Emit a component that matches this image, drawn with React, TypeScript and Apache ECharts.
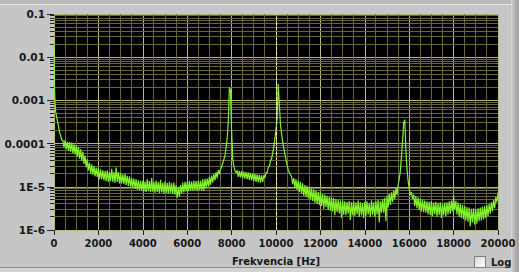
import React, { useEffect, useRef } from "react";
import * as echarts from "echarts";

// ---------- data ----------
const FREQ_STEP = 50; // Hz between samples inside a segment

// very first samples near DC
const dcFreqs = [0, 20, 45, 70];
const dcValues = [0.022, 0.0021, 9.0e-4, 5.8e-4];

const lowBandStart = 100;
const lowBand = [
  4.6e-4, 3.4e-4, 2.6e-4, 1.8e-4, 1.55e-4, 1.2e-4, 1.2e-4,
  8.2e-5, 1.2e-4, 7.4e-5, 1.1e-4, 6.8e-5, 1.08e-4, 6.5e-5, 1.05e-4, 6.0e-5, 9.6e-5,
  5.6e-5, 9.2e-5, 5.0e-5, 8.4e-5, 4.5e-5, 7.4e-5, 4.0e-5, 6.5e-5, 3.4e-5, 5.3e-5,
  2.8e-5, 4.3e-5, 2.4e-5, 3.6e-5, 2.0e-5, 3.3e-5, 1.9e-5, 3.0e-5, 1.75e-5, 2.8e-5,
  1.7e-5, 2.7e-5, 1.5e-5, 2.5e-5, 1.5e-5, 2.4e-5, 1.4e-5, 2.3e-5, 1.35e-5, 2.4e-5,
  1.3e-5, 2.2e-5, 1.35e-5, 2.6e-5, 1.3e-5, 2.2e-5, 1.25e-5, 2.8e-5, 1.3e-5, 2.2e-5,
  1.2e-5,
];

const midBandStart = 3000;
const midBand = [
  2.1e-5, 1.2e-5, 1.95e-5, 1.15e-5, 2.0e-5, 1.1e-5, 1.8e-5, 1.05e-5, 1.75e-5, 1.0e-5,
  1.6e-5, 9.6e-6, 1.55e-5, 9.0e-6, 1.5e-5, 8.6e-6, 1.42e-5, 8.3e-6, 1.38e-5, 8.0e-6,
  1.4e-5, 7.8e-6, 1.32e-5, 7.6e-6, 1.5e-5, 7.9e-6, 1.35e-5, 7.5e-6, 1.6e-5, 7.7e-6,
  1.3e-5, 7.3e-6, 1.4e-5, 7.6e-6, 1.28e-5, 7.2e-6, 1.45e-5, 7.4e-6, 1.26e-5, 7.0e-6,
  1.32e-5, 7.2e-6, 1.24e-5, 6.9e-6, 1.3e-5, 7.1e-6, 1.2e-5, 6.8e-6, 1.26e-5, 6.6e-6,
  1.1e-5, 5.6e-6, 9.4e-6, 5.9e-6, 1.1e-5, 7.0e-6, 1.25e-5, 7.4e-6, 1.3e-5, 7.8e-6,
  1.28e-5, 7.9e-6, 1.35e-5, 8.0e-6, 1.32e-5, 8.1e-6, 1.38e-5, 8.2e-6, 1.35e-5, 8.0e-6,
  1.4e-5, 8.3e-6, 1.38e-5, 8.1e-6, 1.5e-5, 8.0e-6, 1.52e-5, 9.4e-6, 1.55e-5, 1.02e-5,
  1.7e-5, 1.12e-5, 1.82e-5, 1.25e-5, 2.0e-5, 1.4e-5, 2.2e-5, 1.6e-5, 2.45e-5, 1.95e-5,
];

const peak8kStart = 7500;
const peak8k = [
  2.6e-5, 2.9e-5, 3.5e-5, 4.3e-5, 5.2e-5, 8.0e-5, 1.3e-4, 3.2e-4, 2.0e-3, 1.7e-3,
  2.0e-4, 4.5e-5, 3.0e-5, 2.4e-5, 2.1e-5,
];

const betweenStart = 8250;
const between = [
  2.4e-5, 1.7e-5, 2.35e-5, 1.65e-5, 2.3e-5, 1.6e-5, 2.25e-5, 1.55e-5, 2.2e-5, 1.5e-5,
  2.15e-5, 1.45e-5, 2.1e-5, 1.4e-5, 2.05e-5, 1.35e-5, 2.0e-5, 1.3e-5, 1.95e-5, 1.28e-5,
  1.9e-5, 1.25e-5, 1.85e-5, 1.3e-5, 1.85e-5, 1.6e-5, 2.15e-5, 2.1e-5, 2.8e-5, 3.0e-5,
  3.9e-5,
];

const peak10kStart = 9800;
const peak10k = [
  4.5e-5, 6.0e-5, 8.5e-5, 1.3e-4, 2.1e-4, 4.0e-4, 2.4e-3, 8.0e-4, 2.8e-4, 1.7e-4,
  1.1e-4, 7.8e-5, 5.8e-5, 4.2e-5, 3.2e-5, 2.5e-5, 2.1e-5, 1.9e-5,
];

const highBandStart = 10700;
const highBand = [
  1.75e-5, 1.15e-5, 1.6e-5, 9.5e-6, 1.5e-5, 8.5e-6, 1.4e-5, 7.6e-6, 1.3e-5, 7.0e-6,
  1.2e-5, 6.2e-6, 1.1e-5, 5.8e-6, 1.05e-5, 5.4e-6, 1.0e-5, 5.0e-6, 9.2e-6, 4.7e-6,
  8.8e-6, 4.3e-6, 8.2e-6, 4.0e-6, 7.6e-6, 3.8e-6, 7.4e-6, 3.6e-6, 6.8e-6, 3.1e-6,
  6.6e-6, 3.4e-6, 6.2e-6, 2.9e-6, 5.9e-6, 2.8e-6, 5.7e-6, 2.7e-6, 5.5e-6, 2.2e-6,
  5.2e-6, 2.6e-6, 5.0e-6, 2.4e-6, 4.8e-6, 1.9e-6, 4.9e-6, 2.3e-6, 4.6e-6, 2.2e-6,
  4.5e-6, 2.4e-6, 4.7e-6, 1.7e-6, 4.4e-6, 2.2e-6, 4.6e-6, 2.1e-6, 4.3e-6, 2.3e-6,
  4.8e-6, 2.0e-6, 4.4e-6, 2.2e-6, 4.2e-6, 1.9e-6, 4.5e-6, 2.1e-6, 4.6e-6, 2.3e-6,
  4.2e-6, 2.0e-6, 4.9e-6, 2.2e-6, 4.4e-6, 2.0e-6, 4.7e-6, 2.3e-6, 5.0e-6, 1.5e-6,
  4.6e-6, 2.5e-6, 5.2e-6, 2.5e-6, 5.6e-6, 1.6e-6, 6.2e-6, 3.3e-6, 6.9e-6, 3.8e-6,
  7.5e-6, 4.4e-6, 8.3e-6, 5.2e-6, 9.3e-6, 6.5e-6,
];

const peak16kStart = 15500;
const peak16k = [
  1.1e-5, 1.5e-5, 2.3e-5, 5.0e-5, 1.1e-4, 3.0e-4, 3.6e-4, 7.0e-5, 2.6e-5, 1.4e-5,
  9.0e-6, 6.5e-6, 7.5e-6, 5.2e-6,
];

const tailStart = 16200;
const tail = [
  6.6e-6, 3.6e-6, 6.0e-6, 3.2e-6, 5.6e-6, 2.9e-6, 5.3e-6, 2.7e-6, 5.0e-6, 2.6e-6,
  4.8e-6, 2.5e-6, 4.6e-6, 2.3e-6, 4.5e-6, 2.2e-6, 4.7e-6, 2.1e-6, 4.3e-6, 2.3e-6,
  4.5e-6, 2.0e-6, 4.2e-6, 2.2e-6, 4.4e-6, 1.9e-6, 4.0e-6, 2.2e-6, 4.3e-6, 2.1e-6,
  4.4e-6, 2.3e-6, 4.6e-6, 2.4e-6, 4.8e-6, 2.7e-6, 6.2e-6, 2.9e-6, 4.7e-6, 2.3e-6,
  4.3e-6, 2.0e-6, 4.0e-6, 1.9e-6, 3.8e-6, 1.8e-6, 3.6e-6, 1.65e-6, 3.4e-6, 1.55e-6,
  3.3e-6, 1.2e-6, 3.1e-6, 1.5e-6, 3.2e-6, 1.35e-6, 3.0e-6, 1.4e-6, 3.2e-6, 1.6e-6,
  3.3e-6, 1.65e-6, 3.5e-6, 1.75e-6, 3.6e-6, 1.9e-6, 3.8e-6, 2.1e-6, 4.0e-6, 2.4e-6,
  4.4e-6, 2.7e-6, 5.0e-6, 3.2e-6, 5.8e-6, 4.4e-6, 7.5e-6,
];

const segments = [
  { start: lowBandStart, values: lowBand },
  { start: midBandStart, values: midBand },
  { start: peak8kStart, values: peak8k },
  { start: betweenStart, values: between },
  { start: peak10kStart, values: peak10k },
  { start: highBandStart, values: highBand },
  { start: peak16kStart, values: peak16k },
  { start: tailStart, values: tail },
];

// axis / grid values
const X_MIN = 0;
const X_MAX = 20000;
const X_INTERVAL = 2000;
const xMinorGrid = [
  500, 1000, 1500, 2500, 3000, 3500, 4500, 5000, 5500, 6500, 7000, 7500,
  8500, 9000, 9500, 10500, 11000, 11500, 12500, 13000, 13500, 14500, 15000, 15500,
  16500, 17000, 17500, 18500, 19000, 19500,
];
const Y_MIN = 1e-6;
const Y_MAX = 0.1;
const yDecades = [1e-6, 1e-5, 1e-4, 1e-3, 1e-2];
const yMinorMantissas = [2, 3, 4, 5, 6, 7, 8, 9];
const yTickExponents = [-6, -5, -4, -3, -2, -1];
const yTickLabels = ["1E-6", "1E-5", "0.0001", "0.001", "0.01", "0.1"];
const cursorFreq = 10000;

const xTitle = "Frekvencia [Hz]";
const logLabel = "Log";

// ---------- styles ----------
const FONT = "DejaVu Sans";
const TEXT = "#161616";
const MAJOR = "#b9b97c";
const MINOR = "#66663a";
const TRACE = "#82f22a";
const PANEL = "#c6c6c6";

export default function App() {
  const ref = useRef<HTMLDivElement>(null);

  useEffect(() => {
    if (!ref.current) return;
    const chart = echarts.init(ref.current, undefined, { renderer: "svg" });

    const spectrum: [number, number][] = dcFreqs.map((f, i) => [f, dcValues[i]]);
    segments.forEach((seg) =>
      seg.values.forEach((v, i) => spectrum.push([seg.start + i * FREQ_STEP, v]))
    );
    spectrum.sort((a, b) => a[0] - b[0]);

    const yMinor: number[] = [];
    yDecades.forEach((d) => yMinorMantissas.forEach((m) => yMinor.push(m * d)));

    const px = (v: number) => Math.round(v - 0.5) + 0.5;

    const option: any = {
      animation: false,
      backgroundColor: "transparent",
      grid: {
        left: 54,
        right: 21,
        top: 14,
        bottom: 42,
        show: true,
        backgroundColor: "#000",
        borderWidth: 0,
      },
      xAxis: {
        type: "value",
        min: X_MIN,
        max: X_MAX,
        interval: X_INTERVAL,
        axisLine: { show: false },
        axisTick: { show: true, length: 5, lineStyle: { color: "#222" } },
        axisLabel: {
          margin: 8,
          color: TEXT,
          fontFamily: FONT,
          fontWeight: "bold",
          fontSize: 10,
          formatter: (v: number) => String(v),
        },
        splitLine: { show: true, lineStyle: { color: MAJOR, width: 1 } },
        name: xTitle,
        nameLocation: "middle",
        nameGap: 26,
        nameTextStyle: { color: TEXT, fontFamily: FONT, fontWeight: "bold", fontSize: 10 },
      },
      yAxis: {
        type: "log",
        logBase: 10,
        min: Y_MIN,
        max: Y_MAX,
        splitNumber: 5,
        axisLine: { show: false },
        axisTick: { show: true, length: 7, lineStyle: { color: "#222" } },
        axisLabel: {
          margin: 9,
          color: TEXT,
          fontFamily: FONT,
          fontWeight: "bold",
          fontSize: 10.5,
          formatter: (v: number) => {
            const e = Math.round(Math.log10(v));
            const i = yTickExponents.indexOf(e);
            return i >= 0 ? yTickLabels[i] : "";
          },
        },
        splitLine: { show: true, lineStyle: { color: MAJOR, width: 1 } },
      },
      series: [
        {
          type: "custom",
          silent: true,
          clip: false,
          data: yMinor.map((v) => [X_MIN, v]),
          renderItem: (_p: any, api: any) => {
            const v = api.value(1);
            const a = api.coord([X_MIN, v]);
            const b = api.coord([X_MAX, v]);
            const y = px(a[1]);
            return {
              type: "group",
              children: [
                { type: "line", shape: { x1: a[0], y1: y, x2: b[0], y2: y }, style: { stroke: MINOR, lineWidth: 1 } },
                { type: "line", shape: { x1: a[0] - 4, y1: y, x2: a[0], y2: y }, style: { stroke: "#222", lineWidth: 1 } },
              ],
            };
          },
        },
        {
          type: "custom",
          silent: true,
          data: xMinorGrid.map((f) => [f, Y_MIN]),
          renderItem: (_p: any, api: any) => {
            const f = api.value(0);
            const a = api.coord([f, Y_MIN]);
            const b = api.coord([f, Y_MAX]);
            const x = px(a[0]);
            return { type: "line", shape: { x1: x, y1: a[1], x2: x, y2: b[1] }, style: { stroke: MINOR, lineWidth: 1 } };
          },
        },
        {
          type: "line",
          data: spectrum,
          showSymbol: false,
          symbol: "none",
          clip: false,
          lineStyle: { color: TRACE, width: 1.2 },
          silent: true,
          markLine: {
            silent: true,
            symbol: "none",
            label: { show: false },
            lineStyle: { color: "#f2f2a8", width: 1, type: [3, 2] },
            data: [{ xAxis: cursorFreq }],
          },
        },
      ],
      graphic: [
        { type: "rect", shape: { x: 0, y: 0, width: 519, height: 4 }, style: { fill: "#b9b9b9" }, silent: true },
        { type: "rect", shape: { x: 0, y: 4, width: 511, height: 1 }, style: { fill: "#e6e6e6" }, silent: true },
        {
          type: "rect",
          shape: { x: 511, y: 0, width: 8, height: 272 },
          style: {
            fill: new echarts.graphic.LinearGradient(0, 0, 1, 0, [
              { offset: 0, color: "#dcdcdc" },
              { offset: 0.3, color: "#bdbdbd" },
              { offset: 1, color: "#9c9c9c" },
            ]),
          },
          silent: true,
        },
        { type: "rect", shape: { x: 0, y: 267, width: 511, height: 1 }, style: { fill: "#8e8e8e" }, silent: true },
        { type: "rect", shape: { x: 0, y: 268, width: 511, height: 4 }, style: { fill: "#d4d4d4" }, silent: true },
        {
          type: "rect",
          shape: { x: 474.5, y: 256.5, width: 11, height: 11 },
          style: {
            fill: new echarts.graphic.LinearGradient(0, 0, 1, 1, [
              { offset: 0, color: "#d8d8d8" },
              { offset: 1, color: "#ffffff" },
            ]),
            stroke: "#7c7c7c",
            lineWidth: 1,
          },
          silent: true,
        },
        {
          type: "text",
          x: 491,
          y: 262,
          style: {
            text: logLabel,
            fill: TEXT,
            font: `bold 10px "${FONT}"`,
            textVerticalAlign: "middle",
            verticalAlign: "middle",
          },
          silent: true,
        },
      ],
    };

    chart.setOption(option);
    return () => chart.dispose();
  }, []);

  return (
    <div
      ref={ref}
      style={{ position: "fixed", left: 0, top: 0, width: 519, height: 272, background: PANEL }}
    />
  );
}
